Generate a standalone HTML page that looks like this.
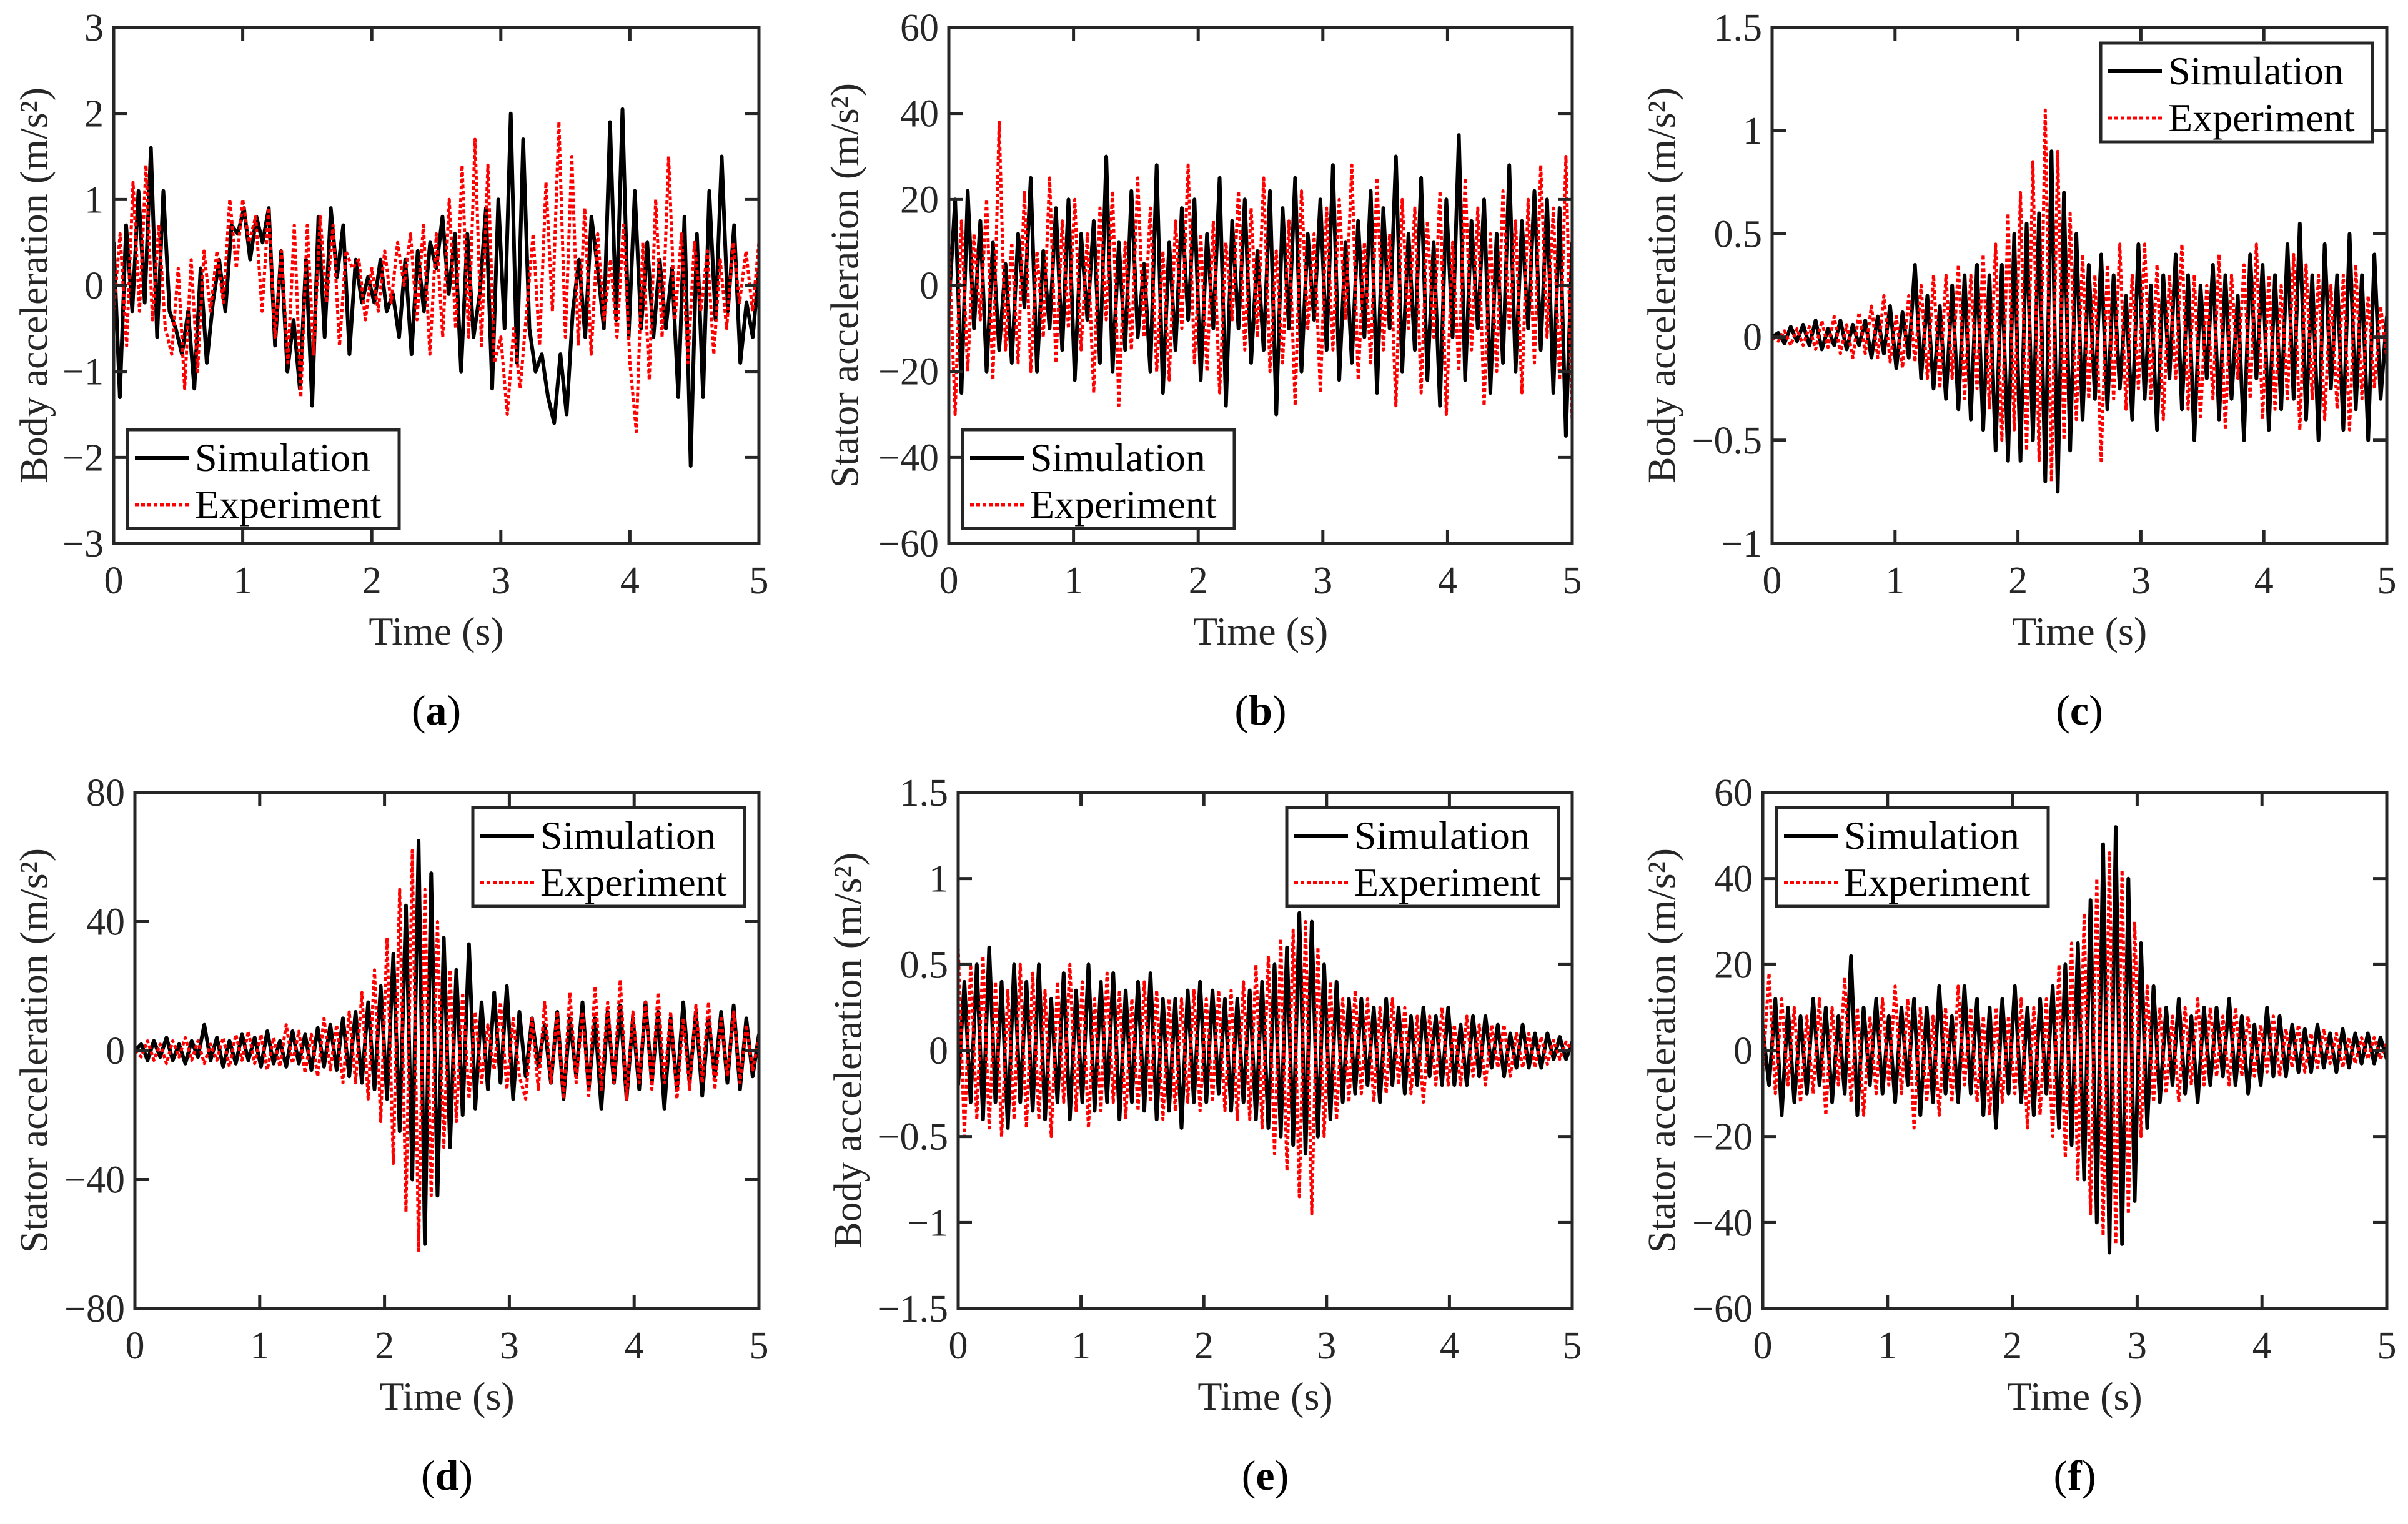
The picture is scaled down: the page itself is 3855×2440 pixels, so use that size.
<!DOCTYPE html>
<html><head><meta charset="utf-8"><style>
html,body{margin:0;padding:0;background:#fff;}
svg, svg text{font-family:"Liberation Serif","Times New Roman",serif;}
svg{display:block;}
</style></head><body>
<svg id="fig" width="3855" height="2440" viewBox="0 0 3855 2440" font-family="Liberation Serif, serif" xmlns="http://www.w3.org/2000/svg"></svg>
<script>
const xTicks=[0,1,2,3,4,5];
const aSim=[0.5,-1.3,0.7,-0.3,1.1,-0.2,1.6,-0.6,1.1,-0.3,-0.5,-0.8,-0.3,-1.2,0.2,-0.9,-0.2,0.3,-0.3,0.7,0.6,0.9,0.3,0.8,0.5,0.9,-0.7,0.4,-1.0,-0.4,-1.2,0.3,-1.4,0.8,-0.6,0.9,0.1,0.7,-0.8,0.3,-0.2,0.1,-0.2,0.3,-0.3,-0.1,-0.6,0.3,-0.8,0.4,-0.3,0.5,0.2,0.8,-0.1,0.6,-1.0,0.6,-0.6,-0.1,0.9,-1.2,1.0,-0.5,2.0,-0.9,1.7,-0.5,-1.0,-0.8,-1.3,-1.6,-0.8,-1.5,-0.3,0.3,-0.6,0.8,0.2,-0.5,1.9,-0.4,2.05,-0.6,1.1,-0.5,0.5,-0.6,0.3,-0.5,0.2,-1.3,0.8,-2.1,0.6,-1.3,1.1,-0.4,1.5,-0.3,0.7,-0.9,-0.2,-0.6,0.2];
const aExp=[-0.3,0.6,-0.7,1.2,-0.3,1.4,-0.4,0.7,-0.5,-0.8,0.2,-1.2,0.3,-1.0,0.4,-0.3,0.4,-0.2,1.0,0.2,1.0,0.5,0.8,-0.3,0.9,-0.6,0.4,-0.9,0.7,-1.3,0.7,-0.8,0.8,-0.2,0.7,-0.7,0.4,0.2,0.3,-0.4,0.2,-0.3,0.4,-0.2,0.5,0.0,0.6,-0.4,0.7,-0.8,0.6,-0.6,1.0,-0.5,1.4,-0.6,1.7,-0.7,1.4,-0.9,-0.6,-1.5,-0.5,-1.2,-0.3,0.6,-0.7,1.2,-0.3,1.9,-0.6,1.5,-0.7,0.9,-0.8,0.6,-0.4,0.3,-0.6,0.7,-0.9,-1.7,0.5,-1.1,1.0,-0.6,1.5,-0.4,0.6,-0.9,0.5,-0.3,0.4,-0.8,0.3,-0.5,0.5,-0.2,0.4,-0.3,0.5];
const bSim=[-5,20,-25,22,-10,15,-20,10,-15,5,-18,12,-5,25,-20,8,-10,18,-15,20,-22,12,-8,15,-18,30,-20,10,-15,22,-12,5,-20,28,-25,10,-15,18,-8,20,-22,12,-10,25,-28,15,-10,20,-18,8,-15,22,-30,18,-10,25,-20,12,-8,20,-15,28,-22,10,-18,15,-12,22,-25,18,-10,30,-20,12,-15,25,-22,10,-28,20,-12,35,-22,15,-10,20,-25,12,-18,28,-20,15,-10,22,-15,20,-25,18,-35,10];
const bExp=[10,-30,15,-20,12,-8,20,-22,38,-15,10,-18,22,-20,8,-12,25,-18,15,-10,20,-15,12,-25,18,-8,22,-28,10,-15,25,-12,18,-20,8,-22,15,-10,28,-18,12,-20,15,-25,10,-8,22,-15,18,-12,25,-20,8,-18,15,-28,22,-10,12,-25,18,-15,20,-8,28,-22,10,-18,25,-15,12,-28,20,-10,18,-25,15,-12,22,-30,10,-20,25,-15,18,-28,12,-20,22,-10,15,-25,20,-18,28,-12,18,-22,30,-32];
const cSim=[0,0.02,-0.03,0.05,-0.02,0.06,-0.04,0.08,-0.06,0.04,-0.04,0.08,-0.06,0.06,-0.04,0.08,-0.1,0.1,-0.08,0.15,-0.15,0.12,-0.1,0.35,-0.2,0.2,-0.25,0.15,-0.3,0.25,-0.35,0.3,-0.4,0.35,-0.45,0.3,-0.55,0.35,-0.6,0.5,-0.6,0.55,-0.5,0.6,-0.7,0.9,-0.75,0.7,-0.55,0.5,-0.4,0.35,-0.3,0.4,-0.35,0.3,-0.25,0.2,-0.4,0.45,-0.3,0.25,-0.45,0.3,-0.2,0.4,-0.35,0.3,-0.5,0.25,-0.2,0.35,-0.4,0.3,-0.3,0.2,-0.5,0.4,-0.2,0.35,-0.45,0.3,-0.35,0.45,-0.3,0.55,-0.4,0.3,-0.5,0.45,-0.25,0.3,-0.45,0.5,-0.35,0.3,-0.5,0.4,-0.3,0.1];
const cExp=[0,-0.02,0.03,-0.04,0.04,-0.04,0.05,-0.06,0.08,-0.05,0.1,-0.08,0.06,-0.1,0.12,-0.08,0.15,-0.1,0.2,-0.12,0.1,-0.15,0.2,-0.12,0.25,-0.2,0.3,-0.25,0.3,-0.2,0.35,-0.3,0.3,-0.25,0.4,-0.35,0.45,-0.5,0.6,-0.45,0.7,-0.55,0.85,-0.6,1.1,-0.7,0.9,-0.5,0.6,-0.4,0.4,-0.3,0.3,-0.6,0.35,-0.3,0.45,-0.35,0.3,-0.25,0.45,-0.3,0.35,-0.4,0.3,-0.2,0.45,-0.35,0.3,-0.4,0.25,-0.3,0.4,-0.45,0.3,-0.2,0.35,-0.3,0.45,-0.4,0.3,-0.35,0.25,-0.3,0.4,-0.45,0.35,-0.3,0.3,-0.4,0.25,-0.35,0.3,-0.45,0.35,-0.3,0.2,-0.25,0.15,-0.1];
const dSim=[0,2,-3,3,-2,4,-3,2,-4,3,-2,8,-3,4,-5,3,-4,5,-3,4,-5,6,-4,3,-5,6,-4,5,-6,7,-5,8,-6,10,-8,12,-10,15,-12,20,-15,30,-25,45,-40,65,-60,55,-45,35,-30,25,-20,33,-18,15,-12,18,-10,20,-15,12,-8,10,-5,8,-10,12,-15,10,-8,15,-12,10,-18,12,-10,14,-15,10,-12,15,-10,12,-18,10,-12,15,-10,12,-14,10,-8,12,-10,14,-12,10,-8,5];
const dExp=[0,-2,3,-3,2,-4,3,-2,4,-3,3,-4,2,-3,4,-5,5,-3,6,-4,5,-6,4,-5,8,-4,6,-7,5,-8,10,-6,8,-10,12,-10,18,-15,25,-22,35,-35,50,-50,62,-62,50,-45,40,-30,25,-22,18,-15,12,-10,8,-6,15,-12,10,-8,-15,10,-12,15,-10,12,-15,18,-10,12,-14,20,-12,15,-10,22,-15,12,-10,15,-12,18,-10,12,-15,10,-12,14,-10,15,-12,10,-8,12,-10,8,-6,4];
const eSim=[-0.2,0.4,-0.3,0.5,-0.4,0.6,-0.3,0.4,-0.45,0.5,-0.3,0.4,-0.35,0.5,-0.4,0.3,-0.3,0.45,-0.4,0.35,-0.3,0.5,-0.35,0.4,-0.3,0.45,-0.4,0.35,-0.3,0.4,-0.35,0.45,-0.4,0.3,-0.35,0.3,-0.45,0.35,-0.3,0.4,-0.3,0.35,-0.25,0.3,-0.35,0.3,-0.3,0.35,-0.4,0.4,-0.45,0.5,-0.5,0.6,-0.55,0.8,-0.6,0.75,-0.5,0.5,-0.4,0.4,-0.3,0.3,-0.25,0.3,-0.2,0.25,-0.3,0.3,-0.2,0.25,-0.25,0.2,-0.2,0.25,-0.15,0.2,-0.2,0.25,-0.2,0.15,-0.2,0.2,-0.15,0.2,-0.1,0.15,-0.15,0.1,-0.1,0.15,-0.1,0.1,-0.1,0.1,-0.05,0.08,-0.05,0.05];
const eExp=[0.6,-0.5,0.5,-0.4,0.55,-0.45,0.4,-0.5,0.35,-0.4,0.5,-0.45,0.45,-0.4,0.35,-0.5,0.4,-0.3,0.5,-0.35,0.4,-0.45,0.3,-0.35,0.45,-0.3,0.35,-0.4,0.3,-0.35,0.4,-0.3,0.35,-0.4,0.3,-0.35,0.3,-0.3,0.35,-0.35,0.3,-0.3,0.35,-0.35,0.35,-0.4,0.4,-0.4,0.5,-0.45,0.55,-0.6,0.65,-0.7,0.7,-0.85,0.75,-0.95,0.6,-0.5,0.4,-0.4,0.3,-0.3,0.35,-0.25,0.3,-0.3,0.25,-0.25,0.3,-0.2,0.25,-0.25,0.2,-0.3,0.2,-0.2,0.25,-0.2,0.15,-0.2,0.2,-0.15,0.15,-0.2,0.15,-0.1,0.15,-0.15,0.1,-0.1,0.1,-0.1,0.08,-0.08,0.06,-0.05,0.05,0];
const fSim=[5,-8,12,-15,10,-12,8,-10,12,-8,10,-12,8,-10,22,-15,10,-8,12,-10,8,-12,10,-8,12,-15,10,-12,15,-10,8,-12,15,-10,12,-15,10,-18,12,-10,15,-12,10,-15,12,-10,15,-18,20,-22,25,-30,35,-40,48,-47,52,-45,40,-35,25,-18,15,-12,10,-8,12,-10,8,-12,10,-8,10,-6,12,-8,8,-10,6,-8,10,-6,8,-6,6,-5,5,-5,6,-4,4,-5,5,-4,4,-3,4,-3,3,-2];
const fExp=[-5,18,-10,12,-8,10,-12,8,-10,12,-15,10,-8,17,-12,10,-15,8,-10,12,-8,15,-10,12,-18,10,-12,8,-15,10,-12,15,-8,10,-12,8,-15,10,-12,8,-10,12,-18,10,-15,12,-20,20,-25,25,-30,32,-38,40,-43,46,-45,42,-38,30,-20,15,-12,10,-10,8,-12,10,-8,12,-8,10,-6,8,-8,10,-6,8,-6,6,-5,8,-6,5,-4,6,-5,4,-4,5,-3,4,-4,3,-3,3,-2,3,-2,2];
const ticksA=[-3,-2,-1,0,1,2,3];
const ticks60=[-60,-40,-20,0,20,40,60];
const ticksC=[-1,-0.5,0,0.5,1,1.5];
const ticks80=[-80,-40,0,40,80];
const ticksE=[-1.5,-1,-0.5,0,0.5,1,1.5];
const labels=["a","b","c","d","e","f"];

const NS="http://www.w3.org/2000/svg";
const FONT="Liberation Serif, Times New Roman, serif";
const svg=document.getElementById('fig');
function mk(tag,attrs,parent){const e=document.createElementNS(NS,tag);for(const k in attrs)e.setAttribute(k,attrs[k]);if(tag==='text')e.setAttribute('font-family',FONT);(parent||svg).appendChild(e);return e;}
function fmt(v){return v<0?"\u2212"+String(-v):String(v);}

const panels=[
 {id:"a",L:182,R:1215,T:44,B:870,ymin:-3,ymax:3,yt:ticksA,sim:aSim,exp:aExp,yl:"Body acceleration (m/s²)",ylx:54,lg:[204,688]},
 {id:"b",L:1519,R:2517,T:44,B:870,ymin:-60,ymax:60,yt:ticks60,sim:bSim,exp:bExp,yl:"Stator acceleration (m/s²)",ylx:1352,lg:[1541,688]},
 {id:"c",L:2837,R:3821,T:44,B:870,ymin:-1,ymax:1.5,yt:ticksC,sim:cSim,exp:cExp,yl:"Body acceleration (m/s²)",ylx:2660,lg:[3363,69]},
 {id:"d",L:216,R:1215,T:1269,B:2095,ymin:-80,ymax:80,yt:ticks80,sim:dSim,exp:dExp,yl:"Stator acceleration (m/s²)",ylx:54,lg:[757,1293]},
 {id:"e",L:1534,R:2517,T:1269,B:2095,ymin:-1.5,ymax:1.5,yt:ticksE,sim:eSim,exp:eExp,yl:"Body acceleration (m/s²)",ylx:1357,lg:[2060,1293]},
 {id:"f",L:2822,R:3821,T:1269,B:2095,ymin:-60,ymax:60,yt:ticks60,sim:fSim,exp:fExp,yl:"Stator acceleration (m/s²)",ylx:2660,lg:[2844,1293]}
];

panels.forEach(function(p,pi){
 const g=mk('g',{});
 
 
 const sx=t=>p.L+(t/5)*(p.R-p.L);
 const sy=v=>p.B-(v-p.ymin)/(p.ymax-p.ymin)*(p.B-p.T);
 const cid='clip'+p.id;
 const cp=mk('clipPath',{id:cid},g);mk('rect',{x:p.L,y:p.T,width:p.R-p.L,height:p.B-p.T},cp);
 function series(arr,color,dash,name){
  const n=arr.length;
  const d=arr.map((v,i)=>(i?'L':'M')+sx(i*5/(n-1)).toFixed(1)+' '+sy(v).toFixed(1)).join(' ');
  const path=mk('path',{d:d,fill:'none',stroke:color,'stroke-width':dash?5:6,'stroke-linejoin':'round','clip-path':'url(#'+cid+')'},g);
  if(dash)path.setAttribute('stroke-dasharray',dash);
  
  
 }
 series(p.sim,'#000',null,'simulation-line-'+p.id);
 series(p.exp,'#ff0000','6 4','experiment-line-'+p.id);
 const box=mk('rect',{x:p.L,y:p.T,width:p.R-p.L,height:p.B-p.T,fill:'none',stroke:'#262626','stroke-width':5},g);
 
 
 xTicks.forEach(function(t){
  const x=sx(t);
  mk('line',{x1:x,y1:p.B,x2:x,y2:p.B-22,stroke:'#262626','stroke-width':5},g);
  mk('line',{x1:x,y1:p.T,x2:x,y2:p.T+22,stroke:'#262626','stroke-width':5},g);
  const tx=mk('text',{x:x,y:p.B+80,'font-size':62,'text-anchor':'middle',fill:'#262626'},g);
  tx.textContent=fmt(t);
  
  
 });
 p.yt.forEach(function(v){
  const y=sy(v);
  mk('line',{x1:p.L,y1:y,x2:p.L+22,y2:y,stroke:'#262626','stroke-width':5},g);
  mk('line',{x1:p.R,y1:y,x2:p.R-22,y2:y,stroke:'#262626','stroke-width':5},g);
  const tx=mk('text',{x:p.L-16,y:y+21,'font-size':62,'text-anchor':'end',fill:'#262626'},g);
  tx.textContent=fmt(v);
  
  
 });
 const xl=mk('text',{x:(p.L+p.R)/2,y:p.B+162,'font-size':64,'text-anchor':'middle',fill:'#262626'},g);
 xl.textContent='Time (s)';
 
 
 const cy=(p.T+p.B)/2;
 const yl=mk('text',{x:p.ylx,y:cy,'font-size':64,'text-anchor':'middle',fill:'#262626',transform:'rotate(-90 '+p.ylx+' '+cy+')','dominant-baseline':'central'},g);
 yl.textContent=p.yl;
 
 
 const pl=mk('text',{x:(p.L+p.R)/2,y:p.B+290,'font-size':68,'text-anchor':'middle',fill:'#000'},g);
 pl.innerHTML='(<tspan font-weight="bold">'+labels[pi]+'</tspan>)';
 
 
 const lx=p.lg[0],ly=p.lg[1];
 const lg=mk('g',{},g);
 
 
 mk('rect',{x:lx,y:ly,width:435,height:158,fill:'#fff',stroke:'#262626','stroke-width':5},lg);
 mk('line',{x1:lx+12,y1:ly+45,x2:lx+98,y2:ly+45,stroke:'#000','stroke-width':6},lg);
 mk('line',{x1:lx+12,y1:ly+120,x2:lx+98,y2:ly+120,stroke:'#ff0000','stroke-width':5,'stroke-dasharray':'6 4'},lg);
 const t1=mk('text',{x:lx+108,y:ly+66,'font-size':64,fill:'#000'},lg);t1.textContent='Simulation';
 
 
 const t2=mk('text',{x:lx+108,y:ly+141,'font-size':64,fill:'#000'},lg);t2.textContent='Experiment';
 
 
});
</script>
</body></html>
